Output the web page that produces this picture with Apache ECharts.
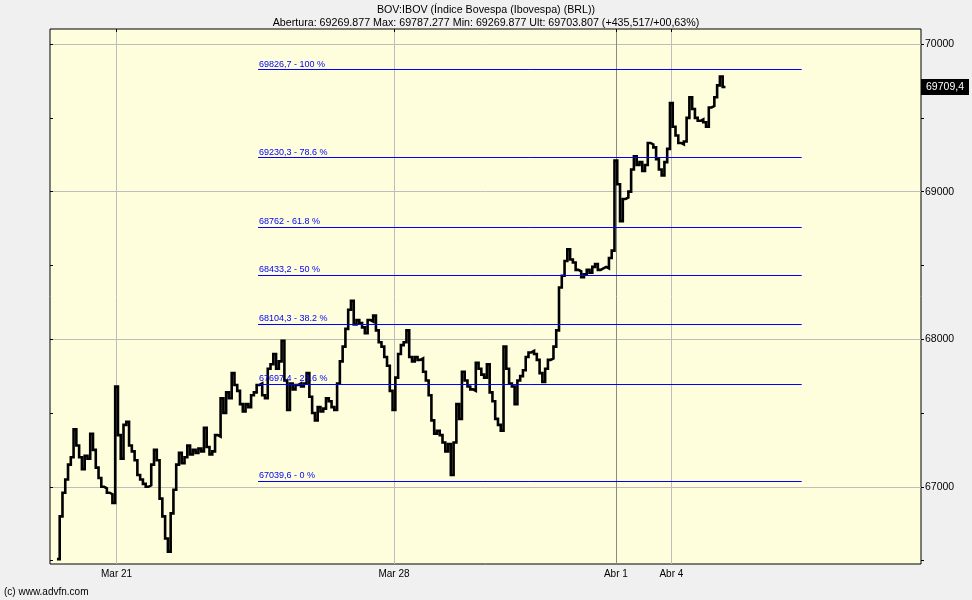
<!DOCTYPE html>
<html><head><meta charset="utf-8">
<script src="https://cdn.jsdelivr.net/npm/echarts@6/dist/echarts.min.js"></script>
<style>html,body{margin:0;padding:0;background:#f0f0f0}#c{width:972px;height:600px}</style>
</head><body><div id="c"></div>
<script>
const titleLine1 = 'BOV:IBOV (Índice Bovespa (Ibovespa) (BRL))';
const titleLine2 = 'Abertura: 69269.877 Max: 69787.277 Min: 69269.877 Ult: 69703.807 (+435,517/+00,63%)';
const credit = '(c) www.advfn.com';

// time slots (20 per trading day)
const totalSlots = 315;
const firstSlot = 3;
const dayTicks = [
  { slot: 24, label: 'Mar 21' },
  { slot: 124, label: 'Mar 28' },
  { slot: 204, label: 'Abr 1' },
  { slot: 224, label: 'Abr 4' }
];

// intraday prices per trading day
const mar18 = [66510, 66800, 66960, 67050, 67150, 67200, 67390, 67280, 67200, 67120, 67210, 67190, 67360, 67250, 67130, 67060, 67000, 66990, 66960, 66950, 66890];
const mar21 = [67680, 67350, 67190, 67420, 67440, 67280, 67240, 67180, 67080, 67050, 67020, 67000, 67010, 67150, 67250, 67180, 66920, 66800, 66650, 66560];
const mar22 = [66820, 66980, 67150, 67230, 67160, 67200, 67280, 67220, 67250, 67230, 67260, 67240, 67400, 67270, 67220, 67240, 67350, 67340, 67600, 67500];
const mar23 = [67640, 67600, 67770, 67690, 67650, 67560, 67510, 67560, 67540, 67620, 67640, 67690, 67700, 67620, 67600, 67800, 67830, 67900, 67800, 67850];
const mar24 = [67990, 67720, 67520, 67700, 67660, 67690, 67700, 67680, 67700, 67770, 67610, 67500, 67450, 67540, 67510, 67530, 67600, 67580, 67540, 67520];
const mar25 = [67700, 67850, 67950, 68070, 68200, 68260, 68100, 68130, 68110, 68080, 68040, 68130, 68120, 68160, 68060, 67980, 67950, 67880, 67820, 67650];
const mar28 = [67520, 67740, 67900, 67960, 67980, 68060, 67880, 67850, 67880, 67860, 67870, 67780, 67720, 67620, 67450, 67360, 67380, 67350, 67300, 67240];
const mar29 = [67290, 67080, 67300, 67560, 67460, 67780, 67720, 67680, 67660, 67650, 67840, 67800, 67760, 67740, 67830, 67640, 67580, 67460, 67420, 67380];
const mar30 = [67950, 67800, 67700, 67680, 67560, 67720, 67750, 67790, 67880, 67910, 67920, 67900, 67860, 67770, 67710, 67800, 67860, 67870, 67950, 68060];
const mar31 = [68350, 68430, 68530, 68610, 68540, 68520, 68470, 68460, 68420, 68440, 68470, 68450, 68490, 68510, 68470, 68480, 68490, 68480, 68550, 68600];
const abr1 = [69210, 69050, 68800, 68950, 68960, 69000, 69150, 69240, 69180, 69200, 69140, 69180, 69330, 69320, 69300, 69220, 69150, 69110, 69200, 69290];
const abr4 = [69600, 69440, 69380, 69330, 69320, 69340, 69500, 69640, 69560, 69500, 69480, 69490, 69470, 69440, 69570, 69580, 69640, 69720, 69780, 69709.4];

// Fibonacci retracement levels
const fibLevels = [69826.7, 69230.3, 68762, 68433.2, 68104.3, 67697.4, 67039.6];
const fibLabels = ['69826,7 - 100 %', '69230,3 - 78.6 %', '68762 - 61.8 %', '68433,2 - 50 %', '68104,3 - 38.2 %', '67697,4 - 23.6 %', '67039,6 - 0 %'];
const fibStartSlot = 75;
const fibEndSlot = 271;

const lastPrice = 69709.4;
const lastLabel = '69709,4';

const yMin = 66477, yMax = 70102;
const yLabelValues = [67000, 68000, 69000, 70000];
const yTickValues = [66500, 67000, 67500, 68000, 68500, 69000, 69500, 70000];

// ---- build ----
const categories = Array.from({ length: totalSlots }, (_, i) => 'slot' + i);
const prices = [].concat(mar18, mar21, mar22, mar23, mar24, mar25, mar28, mar29, mar30, mar31, abr1, abr4);
const seriesData = categories.map((_, i) => (i >= firstSlot && i - firstSlot < prices.length) ? prices[i - firstSlot] : null);
const tickMap = {};
dayTicks.forEach(d => { tickMap[d.slot] = d.label; });
const isTick = (i) => tickMap[i] !== undefined;

const FONT = 'Liberation Sans';
const fibData = fibLevels.map((v, k) => [
  { coord: [fibStartSlot, v], label: { formatter: fibLabels[k] } },
  { coord: [fibEndSlot, v] }
]);

const chart = echarts.init(document.getElementById('c'), null, { renderer: 'canvas' });
chart.setOption({
  animation: false,
  backgroundColor: '#f0f0f0',
  textStyle: { fontFamily: FONT },
  title: [
    { text: titleLine1, left: 'center', top: 5, padding: 0, textStyle: { fontSize: 10.7, fontWeight: 'normal', color: '#000', fontFamily: FONT } },
    { text: titleLine2, left: 'center', top: 18, padding: 0, textStyle: { fontSize: 10.7, fontWeight: 'normal', color: '#000', fontFamily: FONT } },
    { text: credit, left: 4, top: 587, padding: 0, textStyle: { fontSize: 10, fontWeight: 'normal', color: '#000', fontFamily: FONT } }
  ],
  grid: { left: 50, right: 51, top: 29, bottom: 36, show: true, backgroundColor: '#FEFEDC', borderColor: '#000', borderWidth: 1 },
  xAxis: [
    {
      type: 'category', data: categories, boundaryGap: false, position: 'bottom',
      axisLine: { show: false },
      axisTick: { show: false },
      axisLabel: { interval: (i) => isTick(i), formatter: (v, i) => tickMap[i] || '', color: '#000', fontSize: 10, margin: 5, fontFamily: FONT },
      splitLine: { show: true, interval: (i) => isTick(i), lineStyle: { color: ['#bdbdbd', '#bdbdbd', '#8a8a8a', '#bdbdbd'], width: 1 } }
    },
    {
      type: 'category', data: categories, boundaryGap: false, position: 'top',
      axisLine: { show: false },
      axisTick: { show: true, inside: true, length: 3, interval: (i) => isTick(i), lineStyle: { color: '#000' } },
      axisLabel: { show: false },
      splitLine: { show: false }
    }
  ],
  yAxis: [
    {
      type: 'value', position: 'right', min: yMin, max: yMax,
      axisLine: { show: false },
      axisTick: { show: false, customValues: yLabelValues },
      axisLabel: { customValues: yLabelValues, color: '#000', fontSize: 10.5, margin: 4, formatter: (v) => String(v), fontFamily: FONT },
      splitLine: { show: true, lineStyle: { color: '#bdbdbd', width: 1 } }
    },
    {
      type: 'value', position: 'right', min: yMin, max: yMax,
      axisLine: { show: false },
      axisTick: { show: true, customValues: yTickValues, length: 3, lineStyle: { color: '#000' } },
      axisLabel: { show: false },
      splitLine: { show: false }
    },
    {
      type: 'value', position: 'left', min: yMin, max: yMax,
      axisLine: { show: false },
      axisTick: { show: true, inside: true, customValues: yTickValues, length: 3, lineStyle: { color: '#000' } },
      axisLabel: { show: false },
      splitLine: { show: false }
    }
  ],
  series: [
    {
      type: 'line', xAxisIndex: 0, yAxisIndex: 0, data: seriesData,
      showSymbol: false, symbol: 'none', connectNulls: false, clip: false,
      step: 'middle',
      lineStyle: { color: '#000', width: 2.6, join: 'miter' },
      z: 3,
      markLine: {
        silent: true, symbol: ['none', 'none'], animation: false,
        lineStyle: { color: '#0000ff', width: 1, type: 'solid' },
        label: { show: true, position: 'insideStartTop', distance: [1, 1], color: '#0000ff', fontSize: 9, fontFamily: FONT },
        emphasis: { disabled: true },
        data: fibData
      },
      markPoint: {
        silent: true, animation: false,
        symbol: 'rect', symbolSize: [48, 16], symbolOffset: [24, 0],
        itemStyle: { color: '#000' },
        label: { show: true, position: 'inside', color: '#fff', fontSize: 10.5, fontFamily: FONT, formatter: lastLabel },
        data: [{ coord: [totalSlots - 1, lastPrice] }]
      }
    }
  ]
});
</script>
</body></html>
